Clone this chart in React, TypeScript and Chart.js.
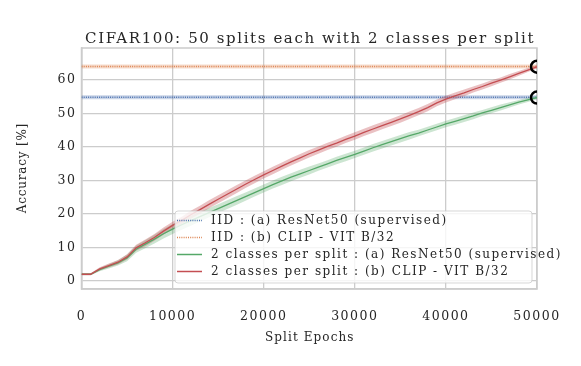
import React, { useEffect, useRef } from 'react';
import { Chart, registerables } from 'chart.js';

Chart.register(...registerables);

const FONT = '"DejaVu Serif", serif';
const TEXT = '#262626';

const TITLE = 'CIFAR100: 50 splits each with 2 classes per split';
const X_TITLE = 'Split Epochs';
const Y_TITLE = 'Accuracy [%]';

const xTicks = [0, 10000, 20000, 30000, 40000, 50000];
const yTicks = [0, 10, 20, 30, 40, 50, 60];

const epochs = [
  0, 1000, 2000, 3000, 4000, 5000, 6000, 7000, 8000, 9000,
  10000, 11000, 12000, 13000, 14000, 15000, 16000, 17000, 18000, 19000,
  20000, 21000, 22000, 23000, 24000, 25000, 26000, 27000, 28000, 29000,
  30000, 31000, 32000, 33000, 34000, 35000, 36000, 37000, 38000, 39000,
  40000, 41000, 42000, 43000, 44000, 45000, 46000, 47000, 48000, 49000, 50000,
];

// 2 classes per split : (b) CLIP - VIT B/32 (mean)
const clipSplit = [
  2.0, 2.0, 3.6, 4.6, 5.6, 7.2, 9.9, 11.4, 13.0, 14.9,
  16.6, 18.1, 19.8, 21.3, 22.9, 24.4, 25.9, 27.4, 28.9, 30.3,
  31.7, 33.0, 34.3, 35.6, 36.8, 38.0, 39.1, 40.2, 41.2, 42.3,
  43.3, 44.4, 45.4, 46.4, 47.4, 48.4, 49.5, 50.6, 51.8, 53.2,
  54.3, 55.3, 56.2, 57.2, 58.1, 59.1, 60.0, 61.0, 62.0, 63.0, 64.0,
];
const clipSplitSd = [
  0.3, 0.3, 0.5, 0.6, 0.7, 0.8, 0.9, 1.0, 1.0, 1.1,
  1.1, 1.1, 1.2, 1.2, 1.2, 1.2, 1.2, 1.2, 1.1, 1.1,
  1.1, 1.1, 1.1, 1.1, 1.1, 1.1, 1.1, 1.1, 1.1, 1.1,
  1.1, 1.1, 1.1, 1.1, 1.1, 1.1, 1.1, 1.1, 1.1, 1.0,
  1.0, 1.0, 1.0, 0.9, 0.9, 0.9, 0.8, 0.8, 0.7, 0.6, 0.5,
];

// 2 classes per split : (a) ResNet50 (supervised) (mean)
const resnetSplit = [
  2.0, 2.0, 3.4, 4.4, 5.4, 6.9, 9.5, 11.0, 12.5, 14.1,
  15.5, 16.8, 18.0, 19.2, 20.4, 21.6, 22.8, 24.0, 25.2, 26.4,
  27.6, 28.8, 29.9, 31.0, 32.0, 33.0, 34.0, 35.0, 36.0, 36.9,
  37.8, 38.8, 39.8, 40.7, 41.6, 42.5, 43.4, 44.2, 45.1, 46.0,
  46.9, 47.7, 48.5, 49.3, 50.2, 51.0, 51.8, 52.6, 53.4, 54.1, 54.8,
];
const resnetSplitSd = [
  0.3, 0.3, 0.5, 0.7, 0.8, 1.0, 1.1, 1.2, 1.3, 1.4,
  1.5, 1.5, 1.5, 1.4, 1.4, 1.3, 1.3, 1.3, 1.2, 1.2,
  1.2, 1.2, 1.2, 1.2, 1.2, 1.2, 1.1, 1.1, 1.1, 1.1,
  1.1, 1.1, 1.1, 1.1, 1.1, 1.1, 1.1, 1.0, 1.0, 1.0,
  1.0, 1.0, 1.0, 1.0, 0.9, 0.9, 0.9, 0.8, 0.7, 0.6, 0.5,
];

const iidX = [0, 50000];
const iidResnet = [54.9, 54.9];
const iidClip = [64.1, 64.1];

const finalX = [50000];
const finalPoints = [64.0, 54.8];

const C_BLUE = '#4C72B0';
const C_ORANGE = '#DD8452';
const C_GREEN = '#55A868';
const C_RED = '#C44E52';

const legendItems = [
  { label: 'IID : (a) ResNet50 (supervised)', color: C_BLUE, dash: [1, 1.2] },
  { label: 'IID : (b) CLIP - VIT B/32', color: C_ORANGE, dash: [1, 1.2] },
  { label: '2 classes per split : (a) ResNet50 (supervised)', color: C_GREEN, dash: [] },
  { label: '2 classes per split : (b) CLIP - VIT B/32', color: C_RED, dash: [] },
];

const pts = (xs: number[], ys: number[]) => ys.map((y, i) => ({ x: xs[i], y }));
const band = (ys: number[], sd: number[], sign: number) =>
  ys.map((y, i) => ({ x: epochs[i], y: y + sign * sd[i] }));

const spacingPlugin = {
  id: 'letterSpacing',
  beforeDraw(chart: any) {
    chart.ctx.letterSpacing = '1.5px';
  },
};

const framePlugin = {
  id: 'frame',
  beforeDatasetsDraw(chart: any) {
    const { ctx, chartArea: a } = chart;
    ctx.save();
    ctx.strokeStyle = '#cccccc';
    ctx.lineWidth = 1.5;
    ctx.strokeRect(a.left, a.top, a.right - a.left, a.bottom - a.top);
    ctx.restore();
  },
};

const textPlugin = {
  id: 'texts',
  afterDraw(chart: any) {
    const { ctx, chartArea: a } = chart;
    ctx.save();
    ctx.fillStyle = TEXT;
    ctx.textBaseline = 'middle';
    ctx.textAlign = 'center';
    ctx.letterSpacing = '1.6px';
    ctx.font = `15px ${FONT}`;
    ctx.fillText(TITLE, (a.left + a.right) / 2 + 0.8, 39.5);
    ctx.letterSpacing = '1.1px';
    ctx.font = `12px ${FONT}`;
    ctx.fillText(X_TITLE, (a.left + a.right) / 2 + 0.5, 338);
    ctx.save();
    ctx.translate(22.5, (a.top + a.bottom) / 2);
    ctx.rotate(-Math.PI / 2);
    ctx.letterSpacing = '0.8px';
    ctx.fillText(Y_TITLE, 0.4, 0);
    ctx.restore();
    ctx.restore();
  },
};

const legendPlugin = {
  id: 'insideLegend',
  afterDatasetsDraw(chart: any) {
    const { ctx, chartArea } = chart;
    const bx = chartArea.left + 93.5;
    const by = chartArea.top + 163;
    const bw = chartArea.right - 5 - bx;
    const bh = 72;
    ctx.save();
    ctx.beginPath();
    const r = 3;
    ctx.moveTo(bx + r, by);
    ctx.arcTo(bx + bw, by, bx + bw, by + bh, r);
    ctx.arcTo(bx + bw, by + bh, bx, by + bh, r);
    ctx.arcTo(bx, by + bh, bx, by, r);
    ctx.arcTo(bx, by, bx + bw, by, r);
    ctx.closePath();
    ctx.fillStyle = 'rgba(255,255,255,0.8)';
    ctx.fill();
    ctx.strokeStyle = 'rgba(204,204,204,0.8)';
    ctx.lineWidth = 1;
    ctx.stroke();
    ctx.font = `12px ${FONT}`;
    ctx.letterSpacing = '1.5px';
    ctx.textBaseline = 'middle';
    ctx.textAlign = 'left';
    legendItems.forEach((it, i) => {
      const cy = by + 9.5 + i * 17;
      ctx.beginPath();
      ctx.setLineDash(it.dash);
      ctx.strokeStyle = it.color;
      ctx.lineWidth = 1.5;
      ctx.moveTo(bx + 2, cy);
      ctx.lineTo(bx + 27, cy);
      ctx.stroke();
      ctx.setLineDash([]);
      ctx.fillStyle = TEXT;
      ctx.fillText(it.label, bx + 36, cy + 0.5);
    });
    ctx.restore();
  },
};

export default function App() {
  const ref = useRef<HTMLCanvasElement>(null);
  useEffect(() => {
    const canvas = ref.current!;
    const noPt = { pointRadius: 0, pointHoverRadius: 0 };
    const chart = new Chart(canvas, {
      type: 'line',
      data: {
        datasets: [
          {
            data: finalPoints.map((y) => ({ x: finalX[0], y })),
            showLine: false,
            pointRadius: 6,
            pointBorderWidth: 2.5,
            pointBorderColor: '#000',
            pointBackgroundColor: 'rgba(0,0,0,0)',
            borderColor: '#000',
            clip: 0,
            order: 0,
          } as any,
          { data: pts(epochs, clipSplit), borderColor: C_RED, borderWidth: 1.3, ...noPt, order: 1 } as any,
          { data: pts(epochs, resnetSplit), borderColor: C_GREEN, borderWidth: 1.3, ...noPt, order: 2 } as any,
          { data: band(clipSplit, clipSplitSd, 1), borderWidth: 0, borderColor: 'rgba(0,0,0,0)', ...noPt, order: 3 } as any,
          { data: band(clipSplit, clipSplitSd, -1), borderWidth: 0, borderColor: 'rgba(0,0,0,0)', fill: '-1', backgroundColor: 'rgba(196,78,82,0.35)', ...noPt, order: 3 } as any,
          { data: band(resnetSplit, resnetSplitSd, 1), borderWidth: 0, borderColor: 'rgba(0,0,0,0)', ...noPt, order: 4 } as any,
          { data: band(resnetSplit, resnetSplitSd, -1), borderWidth: 0, borderColor: 'rgba(0,0,0,0)', fill: '-1', backgroundColor: 'rgba(85,168,104,0.3)', ...noPt, order: 4 } as any,
          { data: pts(iidX, iidResnet), borderColor: C_BLUE, borderWidth: 1.5, borderDash: [1, 1.2], ...noPt, order: 5 } as any,
          { data: pts(iidX, iidResnet), borderColor: 'rgba(76,114,176,0.3)', borderWidth: 4, ...noPt, order: 6 } as any,
          { data: pts(iidX, iidClip), borderColor: C_ORANGE, borderWidth: 1.5, borderDash: [1, 1.2], ...noPt, order: 5 } as any,
          { data: pts(iidX, iidClip), borderColor: 'rgba(221,132,82,0.3)', borderWidth: 4, ...noPt, order: 6 } as any,
        ],
      },
      options: {
        responsive: false,
        animation: false,
        layout: { padding: { left: 0, right: 44, top: 48, bottom: 0 } },
        plugins: {
          legend: { display: false },
          tooltip: { enabled: false },
          title: { display: false },
        },
        scales: {
          x: {
            type: 'linear',
            min: 0,
            max: 50000,
            afterFit: (s: any) => { s.height = 77; },
            afterBuildTicks: (s: any) => { s.ticks = xTicks.map((v) => ({ value: v })); },
            grid: { color: '#cccccc', lineWidth: 1.3, drawTicks: false },
            border: { color: '#cccccc', width: 1.5 },
            ticks: {
              color: TEXT,
              font: { family: FONT, size: 12.5 },
              padding: 20,
              maxRotation: 0,
              callback: (v: any) => String(v),
            },
          },
          y: {
            type: 'linear',
            min: -2.4,
            max: 69.6,
            afterFit: (s: any) => { s.width = 81.5; },
            afterBuildTicks: (s: any) => { s.ticks = yTicks.map((v) => ({ value: v })); },
            grid: { color: '#cccccc', lineWidth: 1.3, drawTicks: false },
            border: { color: '#cccccc', width: 1.5 },
            ticks: {
              color: TEXT,
              font: { family: FONT, size: 12.5 },
              padding: 5,
              callback: (v: any) => String(v),
            },
          },
        },
      },
      plugins: [spacingPlugin, framePlugin, legendPlugin, textPlugin],
    });
    return () => chart.destroy();
  }, []);
  return (
    <div style={{ position: 'fixed', left: 0, top: 0, width: 581, height: 366, background: '#fff' }}>
      <canvas ref={ref} width={581} height={366} style={{ width: 581, height: 366, display: 'block' }} />
    </div>
  );
}
